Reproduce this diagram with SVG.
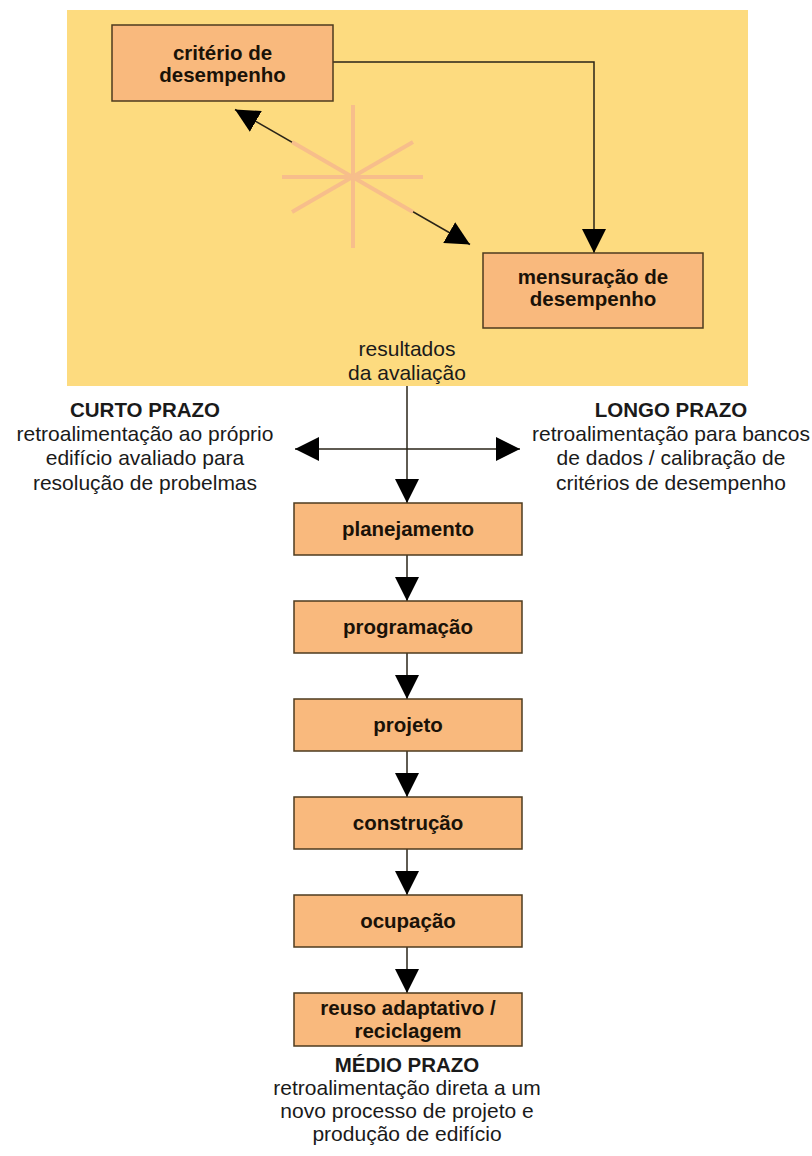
<svg xmlns="http://www.w3.org/2000/svg" width="812" height="1156" viewBox="0 0 812 1156">
  <style>
    .panel { fill: #FDDB7F; }
    .box { fill: #F9B97D; stroke: #4d3b1f; stroke-width: 1.5; }
    .label { font-family: "Liberation Sans", Arial, sans-serif; font-weight: bold; font-size: 20.5px; fill: #1a1208; text-anchor: middle; }
    .note { font-family: "Liberation Sans", Arial, sans-serif; font-size: 21px; fill: #1a1a1a; text-anchor: middle; }
    .head { font-family: "Liberation Sans", Arial, sans-serif; font-weight: bold; font-size: 20.5px; fill: #1a1a1a; text-anchor: middle; }
    .link { fill: none; stroke: #2a2418; stroke-width: 1.5; }
    .ray { stroke: #F7BE8B; stroke-width: 4; }
  </style>
  <defs>
    <marker id="tri" viewBox="0 0 24 24" refX="24" refY="12" markerWidth="24" markerHeight="24" markerUnits="userSpaceOnUse" orient="auto-start-reverse">
      <path d="M0,0 L24,12 L0,24 Z" fill="#000"/>
    </marker>
  </defs>

  <!-- evaluation panel -->
  <rect class="panel" x="67" y="10" width="681" height="376"/>

  <!-- connectors -->
  <g id="connectors">
    <polyline class="link" points="333,62 594,62 594,253" marker-end="url(#tri)"/>
    <line class="link" x1="235" y1="109.5" x2="470" y2="244.5" marker-start="url(#tri)" marker-end="url(#tri)"/>
    <line class="link" x1="407" y1="386" x2="407" y2="503" marker-end="url(#tri)"/>
    <line class="link" x1="295" y1="449" x2="520" y2="449" marker-start="url(#tri)" marker-end="url(#tri)"/>
    <line class="link" x1="407" y1="555" x2="407" y2="601" marker-end="url(#tri)"/>
    <line class="link" x1="407" y1="653" x2="407" y2="699" marker-end="url(#tri)"/>
    <line class="link" x1="407" y1="751" x2="407" y2="797" marker-end="url(#tri)"/>
    <line class="link" x1="407" y1="849" x2="407" y2="895" marker-end="url(#tri)"/>
    <line class="link" x1="407" y1="947" x2="407" y2="993" marker-end="url(#tri)"/>
  </g>

  <!-- conflict star between criteria and measurement -->
  <g id="star">
    <line class="ray" x1="353" y1="105" x2="353" y2="248"/>
    <line class="ray" x1="282" y1="177" x2="423" y2="177"/>
    <line class="ray" x1="292" y1="142" x2="413" y2="212"/>
    <line class="ray" x1="292" y1="212" x2="413" y2="142"/>
  </g>

  <g id="criterio">
    <rect class="box" x="112" y="25" width="221" height="76"/>
    <text class="label" x="222.5" y="60">critério de</text>
    <text class="label" x="222.5" y="82">desempenho</text>
  </g>

  <g id="mensuracao">
    <rect class="box" x="483" y="253" width="220" height="75"/>
    <text class="label" x="593" y="284">mensuração de</text>
    <text class="label" x="593" y="306">desempenho</text>
  </g>

  <g id="resultados">
    <text class="note" x="407" y="356">resultados</text>
    <text class="note" x="407" y="380">da avaliação</text>
  </g>

  <g id="curto-prazo">
    <text class="head" x="145" y="417">CURTO PRAZO</text>
    <text class="note" x="145" y="441">retroalimentação ao próprio</text>
    <text class="note" x="145" y="465">edifício avaliado para</text>
    <text class="note" x="145" y="490">resolução de probelmas</text>
  </g>

  <g id="longo-prazo">
    <text class="head" x="671" y="417">LONGO PRAZO</text>
    <text class="note" x="671" y="441">retroalimentação para bancos</text>
    <text class="note" x="671" y="465">de dados / calibração de</text>
    <text class="note" x="671" y="490">critérios de desempenho</text>
  </g>

  <g id="planejamento">
    <rect class="box" x="294" y="503" width="228" height="52"/>
    <text class="label" x="408" y="536">planejamento</text>
  </g>

  <g id="programacao">
    <rect class="box" x="294" y="601" width="228" height="52"/>
    <text class="label" x="408" y="634">programação</text>
  </g>

  <g id="projeto">
    <rect class="box" x="294" y="699" width="228" height="52"/>
    <text class="label" x="408" y="732">projeto</text>
  </g>

  <g id="construcao">
    <rect class="box" x="294" y="797" width="228" height="52"/>
    <text class="label" x="408" y="830">construção</text>
  </g>

  <g id="ocupacao">
    <rect class="box" x="294" y="895" width="228" height="52"/>
    <text class="label" x="408" y="928">ocupação</text>
  </g>

  <g id="reuso">
    <rect class="box" x="294" y="993" width="228" height="53"/>
    <text class="label" x="408" y="1015">reuso adaptativo /</text>
    <text class="label" x="408" y="1038">reciclagem</text>
  </g>

  <g id="medio-prazo">
    <text class="head" x="407" y="1072">MÉDIO PRAZO</text>
    <text class="note" x="407" y="1095">retroalimentação direta a um</text>
    <text class="note" x="407" y="1118">novo processo de projeto e</text>
    <text class="note" x="407" y="1141">produção de edifício</text>
  </g>
</svg>
